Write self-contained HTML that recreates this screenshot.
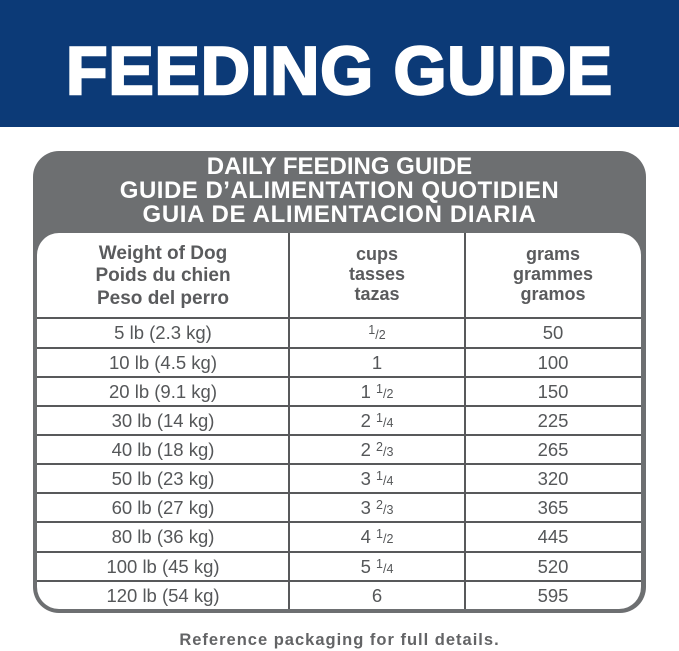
<!DOCTYPE html>
<html><head><meta charset="utf-8"><style>
*{margin:0;padding:0;box-sizing:border-box}
html,body{width:679px;height:651px;background:#fff;overflow:hidden;position:relative;font-family:"Liberation Sans",Arial,sans-serif}
.band{position:absolute;left:0;top:0;width:679px;height:127px;background:#0c3a77}
.title{position:absolute;left:0;width:679px;top:36.5px;height:68px;line-height:68px;text-align:center;color:#fff;font-weight:bold;font-size:68px;letter-spacing:0.8px;-webkit-text-stroke:2.4px #fff}
.box{position:absolute;left:33px;top:151px;width:613px;height:462px;background:#6d6f71;border-radius:26px}
.inner{position:absolute;left:37px;top:233px;width:604px;height:376px;background:#fff;border-radius:22px}
.ht{position:absolute;left:33px;width:613px;top:155px;text-align:center;color:#fff;font-weight:bold;font-size:24px;line-height:24px}
.vl{position:absolute;width:2px;background:#58595b;top:233px;height:376px}
.hl{position:absolute;left:37px;width:604px;height:2px;background:#58595b}
.ch{position:absolute;text-align:center;color:#5a5b5d;font-weight:bold}
.c1{left:37px;width:252px;top:242.5px;font-size:19px;line-height:22.5px}
.c2{left:289px;width:176px;top:244px;font-size:18px;line-height:20px}
.c3{left:465px;width:176px;top:244px;font-size:18px;line-height:20px}
.row{position:absolute;left:37px;width:604px;height:28px;line-height:28px;font-size:18.5px;color:#555759}
.row span.a,.row span.b,.row span.c{position:absolute;top:0;text-align:center}
.a{left:0;width:252px}
.b{left:252px;width:176px}
.c{left:428px;width:176px}
.fr{font-size:12.5px}
.fr .n{position:relative;top:-5px}
.foot{position:absolute;left:0;width:679px;top:631px;text-align:center;font-weight:bold;font-size:16.5px;line-height:19px;color:#636466;letter-spacing:1px}
</style></head><body>
<div class="band"></div>
<div class="title">FEEDING GUIDE</div>
<div class="box"></div>
<div class="ht">DAILY FEEDING GUIDE<br><span style="letter-spacing:0.5px">GUIDE D’ALIMENTATION QUOTIDIEN</span><br><span style="letter-spacing:0.65px">GUIA DE ALIMENTACION DIARIA</span></div>
<div class="inner"></div>
<div class="vl" style="left:288px"></div>
<div class="vl" style="left:464px"></div>
<div class="ch c1">Weight of Dog<br>Poids du chien<br>Peso del perro</div>
<div class="ch c2">cups<br>tasses<br>tazas</div>
<div class="ch c3">grams<br>grammes<br>gramos</div>

<div class="hl" style="top:317px"></div>
<div class="hl" style="top:346.5px"></div>
<div class="hl" style="top:376px"></div>
<div class="hl" style="top:405px"></div>
<div class="hl" style="top:434px"></div>
<div class="hl" style="top:463px"></div>
<div class="hl" style="top:492px"></div>
<div class="hl" style="top:521px"></div>
<div class="hl" style="top:551px"></div>
<div class="hl" style="top:580px"></div>

<div class="row" style="top:319px"><span class="a">5 lb (2.3 kg)</span><span class="b"><span class="fr"><span class="n">1</span>/2</span></span><span class="c">50</span></div>
<div class="row" style="top:348.5px"><span class="a">10 lb (4.5 kg)</span><span class="b">1</span><span class="c">100</span></div>
<div class="row" style="top:378px"><span class="a">20 lb (9.1 kg)</span><span class="b">1 <span class="fr"><span class="n">1</span>/2</span></span><span class="c">150</span></div>
<div class="row" style="top:407px"><span class="a">30 lb (14 kg)</span><span class="b">2 <span class="fr"><span class="n">1</span>/4</span></span><span class="c">225</span></div>
<div class="row" style="top:436px"><span class="a">40 lb (18 kg)</span><span class="b">2 <span class="fr"><span class="n">2</span>/3</span></span><span class="c">265</span></div>
<div class="row" style="top:465px"><span class="a">50 lb (23 kg)</span><span class="b">3 <span class="fr"><span class="n">1</span>/4</span></span><span class="c">320</span></div>
<div class="row" style="top:494px"><span class="a">60 lb (27 kg)</span><span class="b">3 <span class="fr"><span class="n">2</span>/3</span></span><span class="c">365</span></div>
<div class="row" style="top:523px"><span class="a">80 lb (36 kg)</span><span class="b">4 <span class="fr"><span class="n">1</span>/2</span></span><span class="c">445</span></div>
<div class="row" style="top:553px"><span class="a">100 lb (45 kg)</span><span class="b">5 <span class="fr"><span class="n">1</span>/4</span></span><span class="c">520</span></div>
<div class="row" style="top:582px"><span class="a">120 lb (54 kg)</span><span class="b">6</span><span class="c">595</span></div>

<div class="foot">Reference packaging for full details.</div>
</body></html>
